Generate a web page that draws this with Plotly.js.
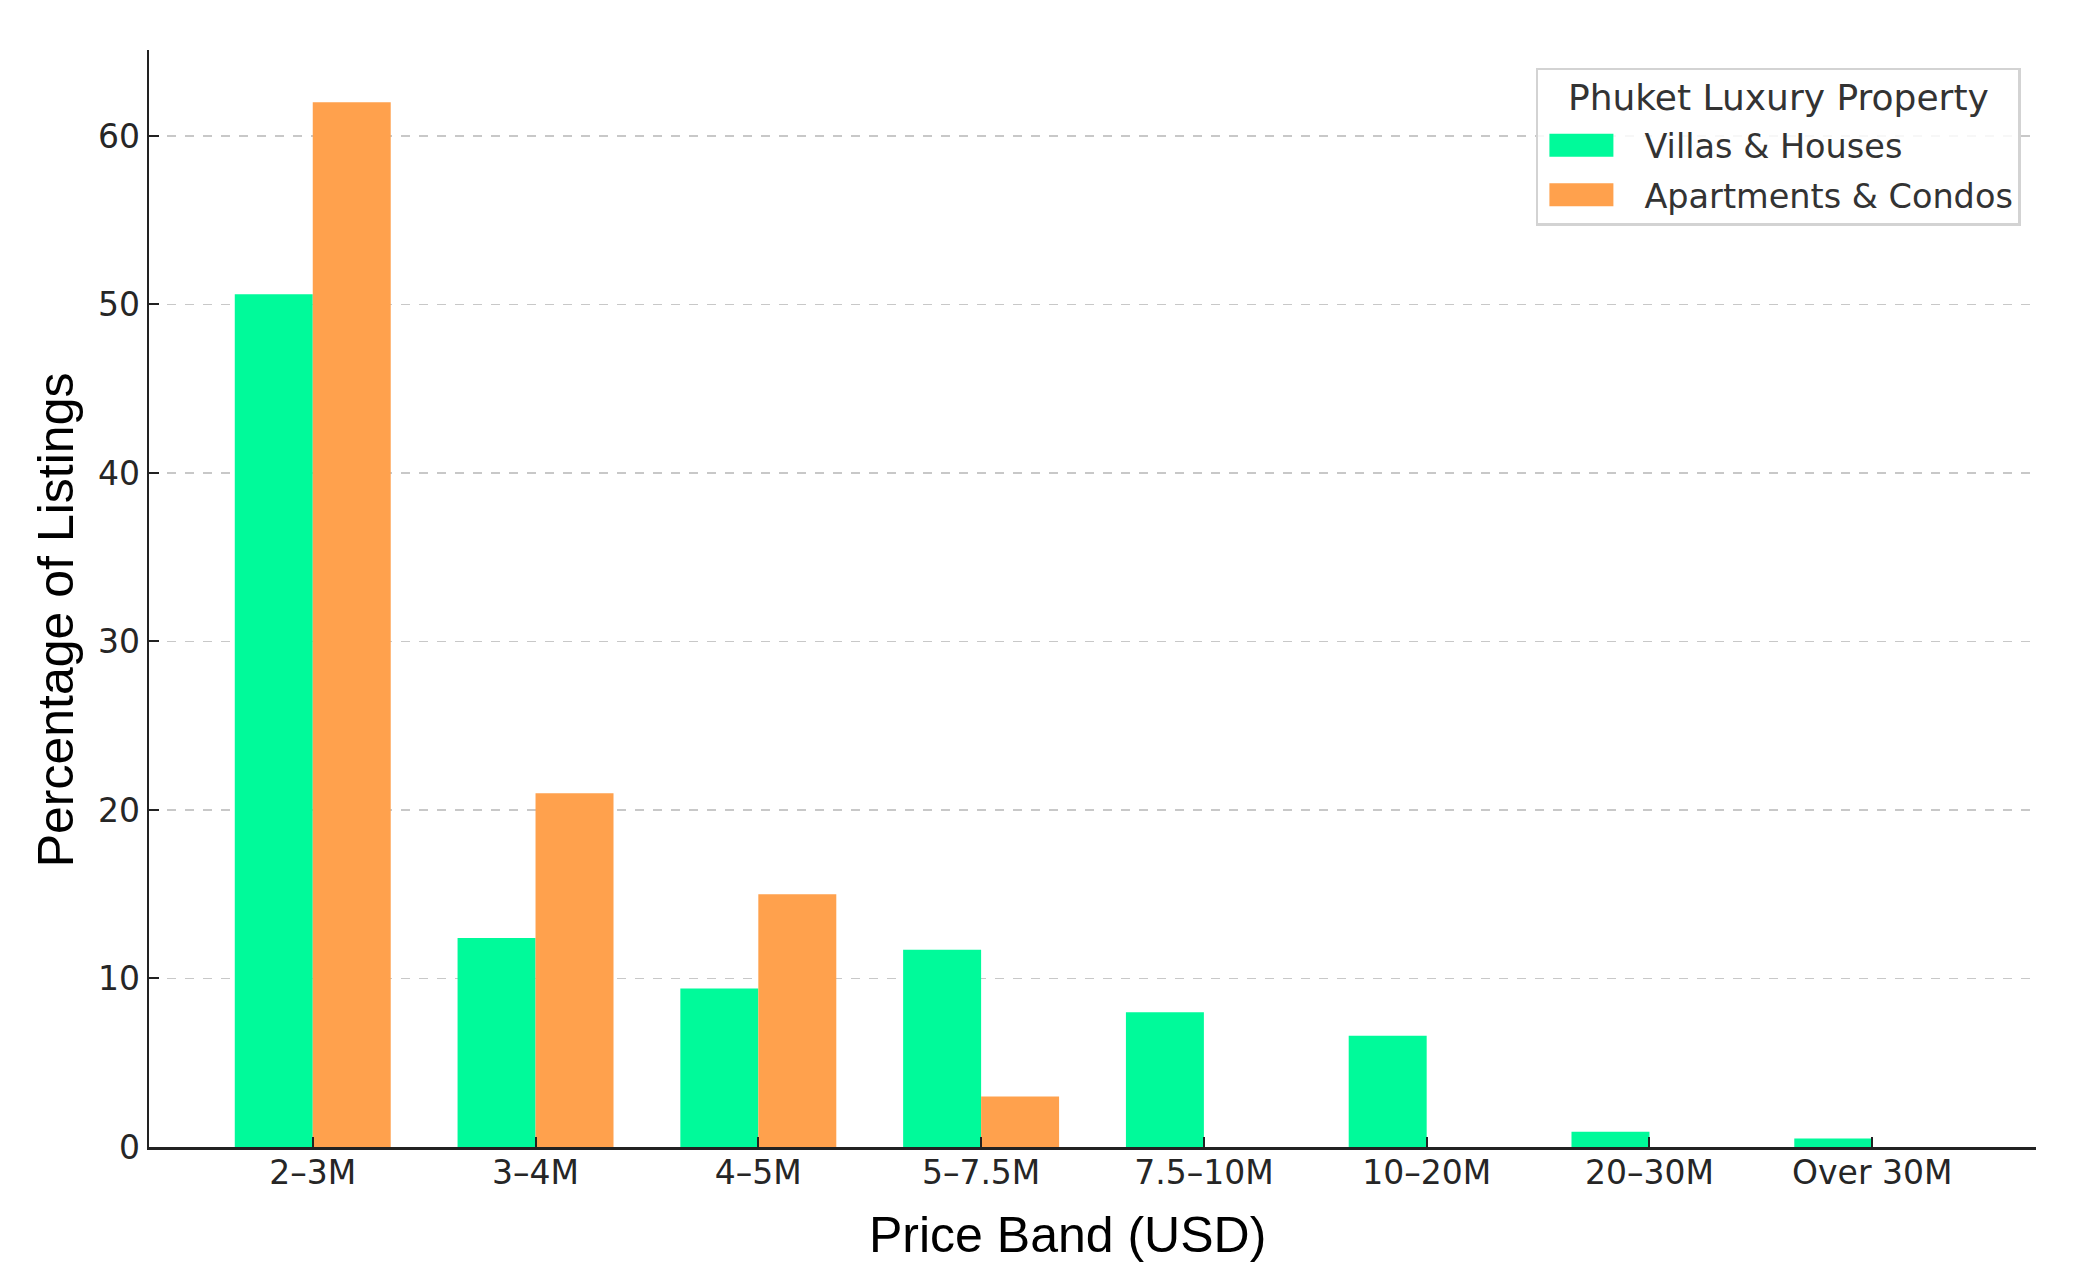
<!DOCTYPE html>
<html>
<head>
<meta charset="utf-8">
<script src="https://cdn.plot.ly/plotly-3.0.1.min.js"></script>
<style>
html, body { margin: 0; padding: 0; background: #ffffff; }
#chart { width: 2083px; height: 1282px; }
</style>
</head>
<body>
<div id="chart"></div>
<script>
const categories = ["2–3M", "3–4M", "4–5M", "5–7.5M", "7.5–10M", "10–20M", "20–30M", "Over 30M"];
const villasHouses = [50.6, 12.4, 9.4, 11.7, 8.0, 6.6, 0.9, 0.5];
const apartmentsCondos = [62, 21, 15, 3, 0, 0, 0, 0];
const seriesNames = ["Villas & Houses", "Apartments & Condos"];
const seriesColors = ["#00fa9a", "#ffa14d"];
const yTicks = [0, 10, 20, 30, 40, 50, 60];
const xTitle = "Price Band (USD)";
const yTitle = "Percentage of Listings";
const legendTitle = "Phuket Luxury Property";

const tickFont = { family: "DejaVu Sans", size: 33, color: "#262626" };
const titleFont = { family: "Liberation Sans", size: 50, color: "#000000" };

const traces = [
  {
    type: "bar",
    name: seriesNames[0],
    legendgroup: "g1",
    x: categories,
    y: villasHouses,
    marker: { color: seriesColors[0], line: { width: 0 } }
  },
  {
    type: "bar",
    name: seriesNames[1],
    legendgroup: "g2",
    x: categories,
    y: apartmentsCondos,
    marker: { color: seriesColors[1], line: { width: 0 } }
  }
];

const layout = {
  width: 2083,
  height: 1282,
  paper_bgcolor: "#ffffff",
  plot_bgcolor: "#ffffff",
  margin: { l: 149, r: 47, t: 50, b: 135, pad: 0 },
  barmode: "group",
  bargap: 0.3,
  bargroupgap: 0,
  showlegend: true,
  xaxis: {
    type: "category",
    range: [-0.735, 7.735],
    showgrid: false,
    zeroline: false,
    showline: true,
    linecolor: "#222222",
    linewidth: 2.5,
    mirror: false,
    ticks: "inside",
    ticklen: 10,
    tickwidth: 2,
    tickcolor: "#222222",
    tickfont: tickFont,
    ticklabelstandoff: -5
  },
  yaxis: {
    range: [0, 65.1],
    tickvals: yTicks,
    ticktext: yTicks.map(String),
    showgrid: true,
    gridcolor: "#c8c8c8",
    gridwidth: 1.6,
    griddash: "dash",
    zeroline: false,
    showline: true,
    linecolor: "#222222",
    linewidth: 2.5,
    mirror: false,
    ticks: "inside",
    ticklen: 10,
    tickwidth: 2,
    tickcolor: "#222222",
    tickfont: tickFont
  },
  annotations: [
    {
      text: xTitle,
      xref: "paper", yref: "paper",
      x: 0.4865, y: -0.080,
      xanchor: "center", yanchor: "middle",
      showarrow: false,
      font: titleFont
    },
    {
      text: yTitle,
      xref: "paper", yref: "paper",
      x: -0.0493, y: 0.481,
      xanchor: "center", yanchor: "middle",
      textangle: -90,
      showarrow: false,
      font: titleFont
    }
  ],
  legend: {
    x: 0.992,
    xanchor: "right",
    y: 0.984,
    yanchor: "top",
    bgcolor: "rgba(255,255,255,0.85)",
    bordercolor: "#d3d3d3",
    borderwidth: 2.5,
    font: { family: "DejaVu Sans", size: 33.5, color: "#333333" },
    title: {
      text: legendTitle,
      side: "top center",
      font: { family: "DejaVu Sans", size: 36, color: "#333333" }
    },
    itemwidth: 96,
    tracegroupgap: 3
  }
};

Plotly.newPlot("chart", traces, layout, { displayModeBar: false, staticPlot: true }).then(function (gd) {
  // enlarge legend swatches to wide rectangles like the reference
  gd.querySelectorAll(".legend .legendpoints path").forEach(function (p) {
    p.setAttribute("d", "M-42,-11.5H22V11.5H-42Z");
  });
  // lift the legend title slightly, as in the reference
  gd.querySelectorAll(".legend .legendtitletext").forEach(function (t) {
    const prev = t.getAttribute("transform") || "";
    t.setAttribute("transform", prev + " translate(0,-7)");
  });
});
</script>
</body>
</html>
